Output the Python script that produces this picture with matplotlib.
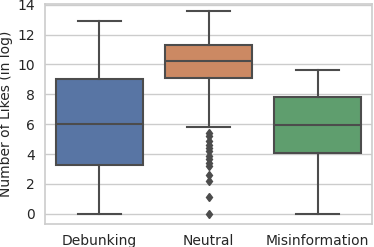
import matplotlib
matplotlib.use("Agg")
import matplotlib.pyplot as plt

categories = ["Debunking", "Neutral", "Misinformation"]
whislo = [0.0, 5.8, 0.0]
q1 = [3.3, 9.1, 4.05]
med = [6.0, 10.25, 5.95]
q3 = [9.0, 11.3, 7.85]
whishi = [12.9, 13.6, 9.65]
neutral_fliers = [5.4, 5.2, 4.9, 4.6, 4.4, 4.2, 3.9, 3.7, 3.4, 3.2, 2.6, 2.2, 1.1, 0.0]
fliers = [[], neutral_fliers, []]
colors = ["#5875a4", "#cc8963", "#5f9e6e"]

plt.rcParams['font.family'] = ['DejaVu Sans']
fig = plt.figure(figsize=(3.74, 2.47), dpi=100)
ax = fig.add_axes([0.12, 0.093, 0.875, 0.891])

stats = []
for i, c in enumerate(categories):
    stats.append(dict(label=c, whislo=whislo[i], q1=q1[i], med=med[i], q3=q3[i],
                      whishi=whishi[i], fliers=fliers[i]))

lc = "#4c4c4c"
bp = ax.bxp(stats, positions=range(len(categories)), widths=0.8, patch_artist=True,
            showfliers=True,
            boxprops=dict(edgecolor=lc, linewidth=1.5),
            medianprops=dict(color=lc, linewidth=1.5),
            whiskerprops=dict(color=lc, linewidth=1.5),
            capprops=dict(color=lc, linewidth=1.5),
            capwidths=0.4,
            flierprops=dict(marker='d', markerfacecolor=lc, markeredgecolor=lc,
                            markersize=4.5, linestyle='none'))
for patch, col in zip(bp['boxes'], colors):
    patch.set_facecolor(col)

ax.set_xlim(-0.5, 2.5)
ax.set_ylim(-0.68, 14.05)
ax.set_yticks([0, 2, 4, 6, 8, 10, 12, 14])
ax.set_xticks(range(len(categories)))
ax.set_xticklabels(categories)
ax.set_ylabel("Number of Likes (in log)", fontsize=10, color="#262626", labelpad=3)
ax.tick_params(axis='both', labelsize=10, colors="#262626", length=0, pad=7)
ax.yaxis.grid(True, color="#cccccc", linewidth=1)
ax.xaxis.grid(False)
ax.set_axisbelow(True)
for s in ax.spines.values():
    s.set_color("#cccccc")
    s.set_linewidth(1.2)

fig.savefig("out.png", dpi=100)
